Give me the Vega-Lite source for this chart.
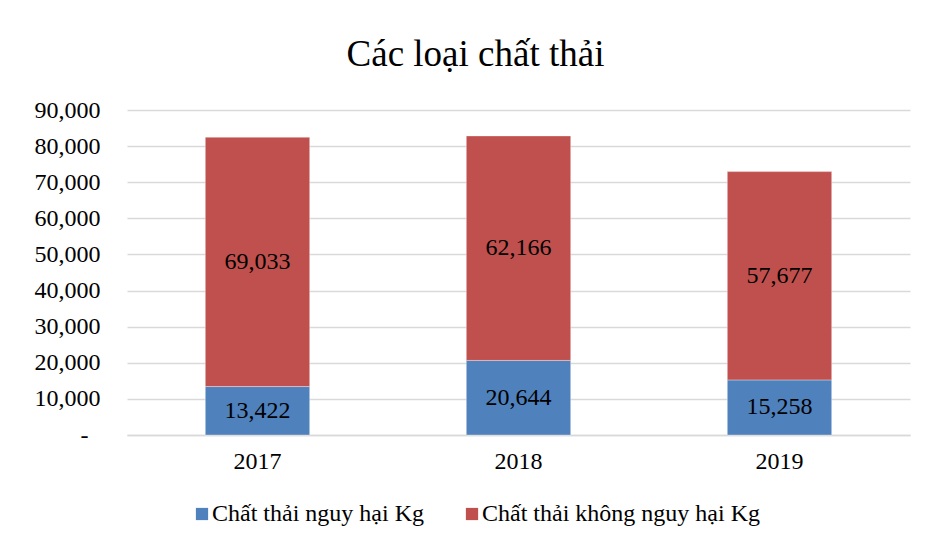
{
  "$schema": "https://vega.github.io/schema/vega-lite/v6.json",
  "autosize": {"type": "none"},
  "width": 783,
  "height": 325,
  "padding": {"left": 127, "top": 110, "right": 15, "bottom": 108},
  "background": "white",
  "title": {
    "text": "Các loại chất thải",
    "font": "Liberation Serif",
    "fontSize": 37,
    "fontWeight": "normal",
    "color": "#000000",
    "anchor": "middle",
    "baseline": "alphabetic",
    "dx": -43,
    "offset": -5
  },
  "data": {
    "values": [
      {"nam": "2017", "loai": "Chất thải nguy hại Kg", "gia_tri": 13422},
      {"nam": "2017", "loai": "Chất thải không nguy hại Kg", "gia_tri": 69033},
      {"nam": "2018", "loai": "Chất thải nguy hại Kg", "gia_tri": 20644},
      {"nam": "2018", "loai": "Chất thải không nguy hại Kg", "gia_tri": 62166},
      {"nam": "2019", "loai": "Chất thải nguy hại Kg", "gia_tri": 15258},
      {"nam": "2019", "loai": "Chất thải không nguy hại Kg", "gia_tri": 57677}
    ]
  },
  "encoding": {
    "x": {
      "field": "nam",
      "type": "nominal",
      "title": null,
      "scale": {"paddingInner": 0.6, "paddingOuter": 0.3},
      "axis": {
        "labelAngle": 0,
        "labelFont": "Liberation Serif",
        "labelFontSize": 24,
        "labelColor": "#000000",
        "labelPadding": 14,
        "ticks": false,
        "domain": true,
        "domainColor": "#d9d9d9",
        "domainWidth": 1.5
      }
    }
  },
  "layer": [
    {
      "mark": {"type": "bar", "stroke": "#ffffff", "strokeOpacity": 0.35, "strokeWidth": 1},
      "encoding": {
        "y": {
          "field": "gia_tri",
          "type": "quantitative",
          "stack": "zero",
          "title": null,
          "scale": {"domain": [0, 90000], "nice": false},
          "axis": {
            "values": [0, 10000, 20000, 30000, 40000, 50000, 60000, 70000, 80000, 90000],
            "labelExpr": "datum.value === 0 ? '-' : format(datum.value, ',')",
            "labelFont": "Liberation Serif",
            "labelFontSize": 24,
            "labelColor": "#000000",
            "labelPadding": {"condition": {"test": "datum.value === 0", "value": 39}, "value": 27},
            "labelOverlap": false,
            "labelBound": false,
            "ticks": false,
            "domain": false,
            "grid": true,
            "gridColor": "#d9d9d9",
            "gridWidth": 1.5
          }
        },
        "color": {
          "field": "loai",
          "type": "nominal",
          "scale": {
            "domain": ["Chất thải nguy hại Kg", "Chất thải không nguy hại Kg"],
            "range": ["#4f81bd", "#c0504d"]
          },
          "legend": {
            "title": null,
            "orient": "none",
            "direction": "horizontal",
            "legendX": 63,
            "legendY": 392,
            "symbolType": "square",
            "symbolSize": 150,
            "symbolStrokeWidth": 0,
            "labelFont": "Liberation Serif",
            "labelFontSize": 24,
            "labelColor": "#000000",
            "labelOffset": -2,
            "columnPadding": 36,
            "labelLimit": 400
          }
        },
        "order": {"field": "loai", "sort": "descending"}
      }
    },
    {
      "transform": [
        {"stack": "gia_tri", "groupby": ["nam"], "sort": [{"field": "loai", "order": "descending"}], "as": ["v0", "v1"]},
        {"fold": ["v0", "v1"], "as": ["bien", "vi_tri"]},
        {"aggregate": [{"op": "mean", "field": "vi_tri", "as": "giua"}], "groupby": ["nam", "loai", "gia_tri"]}
      ],
      "mark": {"type": "text", "font": "Liberation Serif", "fontSize": 24, "color": "#000000", "baseline": "middle", "align": "center"},
      "encoding": {
        "y": {
          "field": "giua",
          "type": "quantitative",
          "title": null,
          "axis": {
            "values": [0, 10000, 20000, 30000, 40000, 50000, 60000, 70000, 80000, 90000],
            "labelExpr": "datum.value === 0 ? '-' : format(datum.value, ',')",
            "labelFont": "Liberation Serif",
            "labelFontSize": 24,
            "labelColor": "#000000",
            "labelPadding": {"condition": {"test": "datum.value === 0", "value": 39}, "value": 27},
            "labelOverlap": false,
            "labelBound": false,
            "ticks": false,
            "domain": false,
            "grid": true,
            "gridColor": "#d9d9d9",
            "gridWidth": 1.5
          }
        },
        "text": {"field": "gia_tri", "type": "quantitative", "format": ","}
      }
    }
  ],
  "config": {
    "view": {"stroke": null},
    "font": "Liberation Serif",
    "axisY": {"labelOverlap": false},
    "legend": {"labelFont": "Liberation Serif"},
    "text": {"font": "Liberation Serif"}
  }
}
